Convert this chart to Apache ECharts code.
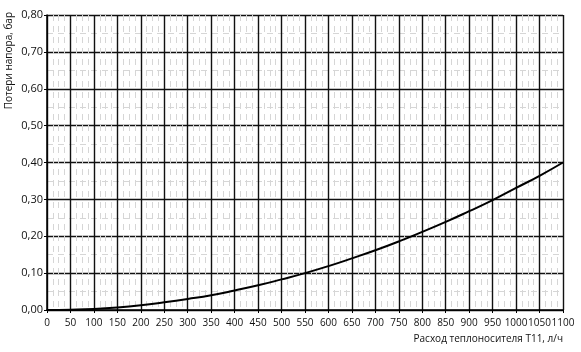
<!DOCTYPE html>
<html>
<head>
<meta charset="utf-8">
<script src="https://cdn.jsdelivr.net/npm/echarts@6/dist/echarts.min.js"></script>
<style>
  html, body { margin: 0; padding: 0; background: #fff; }
  #main { width: 581px; height: 352px; }
</style>
</head>
<body>
<div id="main"></div>
<script>
// расход, л/ч
var flow = [0, 50, 100, 150, 200, 250, 300, 350, 400, 450, 500, 550, 600, 650, 700, 750, 800, 850, 900, 950, 1000, 1050, 1100];
// потери напора, бар
var loss = [0, 0.001, 0.003, 0.007, 0.013, 0.021, 0.030, 0.040, 0.053, 0.067, 0.083, 0.100, 0.119, 0.140, 0.162, 0.186, 0.212, 0.239, 0.268, 0.298, 0.331, 0.364, 0.400];

var yName = 'Потери напора, бар';
var xName = 'Расход теплоносителя Т11, л/ч';

var font = '"Open Sans", "Noto Sans", sans-serif';

var myChart = echarts.init(document.getElementById('main'));
var option = {
    backgroundColor: '#fff',
    animation: false,
    grid: { left: 47, right: 18, top: 15, bottom: 42 },
    xAxis: {
        type: 'value',
        min: 0, max: 1100, interval: 50,
        axisLine: { show: true, lineStyle: { color: '#000', width: 1.5 } },
        axisTick: { show: true, length: 3, lineStyle: { color: '#000' } },
        axisLabel: {
            color: '#111', fontSize: 10, fontFamily: font, margin: 8,
            hideOverlap: false, showMaxLabel: true, showMinLabel: true,
            formatter: function (v) { return String(v); }
        },
        splitLine: { show: true, lineStyle: { color: '#111', width: 1.4 } },
        minorTick: { show: false, splitNumber: 4 },
        minorSplitLine: { show: true, lineStyle: { color: '#d6d6d6', type: [6, 5], width: 1 } }
    },
    yAxis: {
        type: 'value',
        min: 0, max: 0.8, interval: 0.1,
        axisLine: { show: true, lineStyle: { color: '#000', width: 1.5 } },
        axisTick: { show: true, length: 3, lineStyle: { color: '#000' } },
        axisLabel: {
            color: '#111', fontSize: 11, fontFamily: font, margin: 4,
            formatter: function (v) { return v.toFixed(2).replace('.', ','); }
        },
        splitLine: { show: true, lineStyle: { color: '#111', width: 1.4 } },
        minorTick: { show: false, splitNumber: 2 },
        minorSplitLine: { show: true, lineStyle: { color: '#d6d6d6', type: [6, 5], width: 1 } }
    },
    graphic: [
        {
            type: 'text', left: 4, top: 12,
            rotation: Math.PI / 2,
            style: { text: yName, fontSize: 10, fontFamily: font, fill: '#111' }
        },
        {
            type: 'text', right: 18, top: 334,
            style: { text: xName, fontSize: 10, fontFamily: font, fill: '#111' }
        }
    ],
    series: [{
        type: 'line',
        data: flow.map(function (q, i) { return [q, loss[i]]; }),
        smooth: true,
        showSymbol: false,
        lineStyle: { color: '#000', width: 2 }
    }]
};
myChart.setOption(option);
</script>
</body>
</html>
